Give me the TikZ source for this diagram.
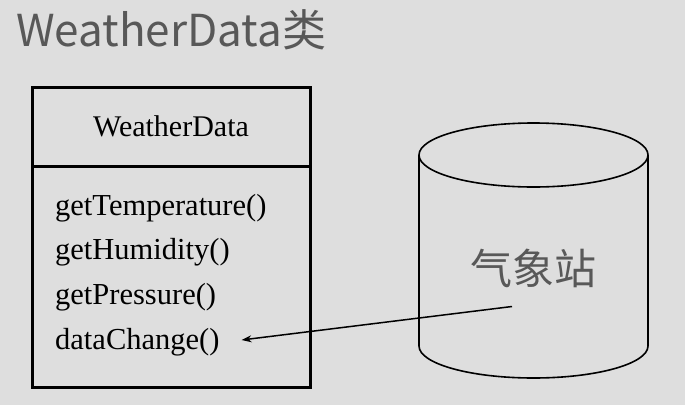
\documentclass[tikz,border=0pt]{standalone}
\usepackage{fontspec}
\setmainfont{Liberation Serif}
\newfontfamily\cjk{Noto Sans CJK SC}
\usetikzlibrary{positioning,arrows.meta,calc}

\definecolor{bggray}{RGB}{222,222,222}
\definecolor{txtgray}{RGB}{88,88,88}

\begin{document}
\begin{tikzpicture}[
    x=1pt, y=-1pt,
    node distance=0pt,
    umlbox/.style={draw, line width=3pt, outer sep=0pt, minimum width=278pt, inner sep=0pt},
    method/.style={font=\fontsize{30.5}{30.5}\selectfont, inner sep=0pt, minimum height=44.5pt, text height=21pt, text depth=7pt},
    store/.style={draw, line width=1.6pt},
    cjklbl/.style={font=\cjk\fontsize{42}{42}\selectfont, text=txtgray, inner sep=0pt},
    >={Stealth[length=10pt, width=7pt]}
]

\useasboundingbox[fill=bggray] (0,0) rectangle (685,405);

% Title
\node[cjklbl, font=\cjk\fontsize{44}{44}\selectfont, anchor=base west] (title) at (16,46) {WeatherData类};

% Class box
\node[umlbox, minimum height=79pt, font=\fontsize{30}{30}\selectfont] (head) at (171,126.5) {WeatherData};
\node[umlbox, minimum height=221pt, below=of head] (body) {};

\node[method, anchor=west] (gettemp) at (55,208) {getTemperature()};
\node[method, below=of gettemp.south west, anchor=north west] (gethum) {getHumidity()};
\node[method, below=of gethum.south west, anchor=north west] (getpres) {getPressure()};
\node[method, below=of getpres.south west, anchor=north west] (datachg) {dataChange()};

% Weather station (cylinder)
\coordinate (station) at (533.5,250.5);
\draw[store] ($(station)+(0,-95.5)$) ellipse [x radius=114.5pt, y radius=32pt];
\draw[store] ($(station)+(-114.5,-95.5)$) -- ++(0,191)
    arc [start angle=180, end angle=360, x radius=114.5pt, y radius=32pt] -- ++(0,-191);
\node[cjklbl] (stname) at ($(station)+(0,18)$) {气象站};

% Arrow
\coordinate (src) at ($(station)+(-21.5,56)$);
\draw[->, line width=1.5pt, shorten >=22pt] (src) -- (datachg.east);

\end{tikzpicture}
\end{document}
